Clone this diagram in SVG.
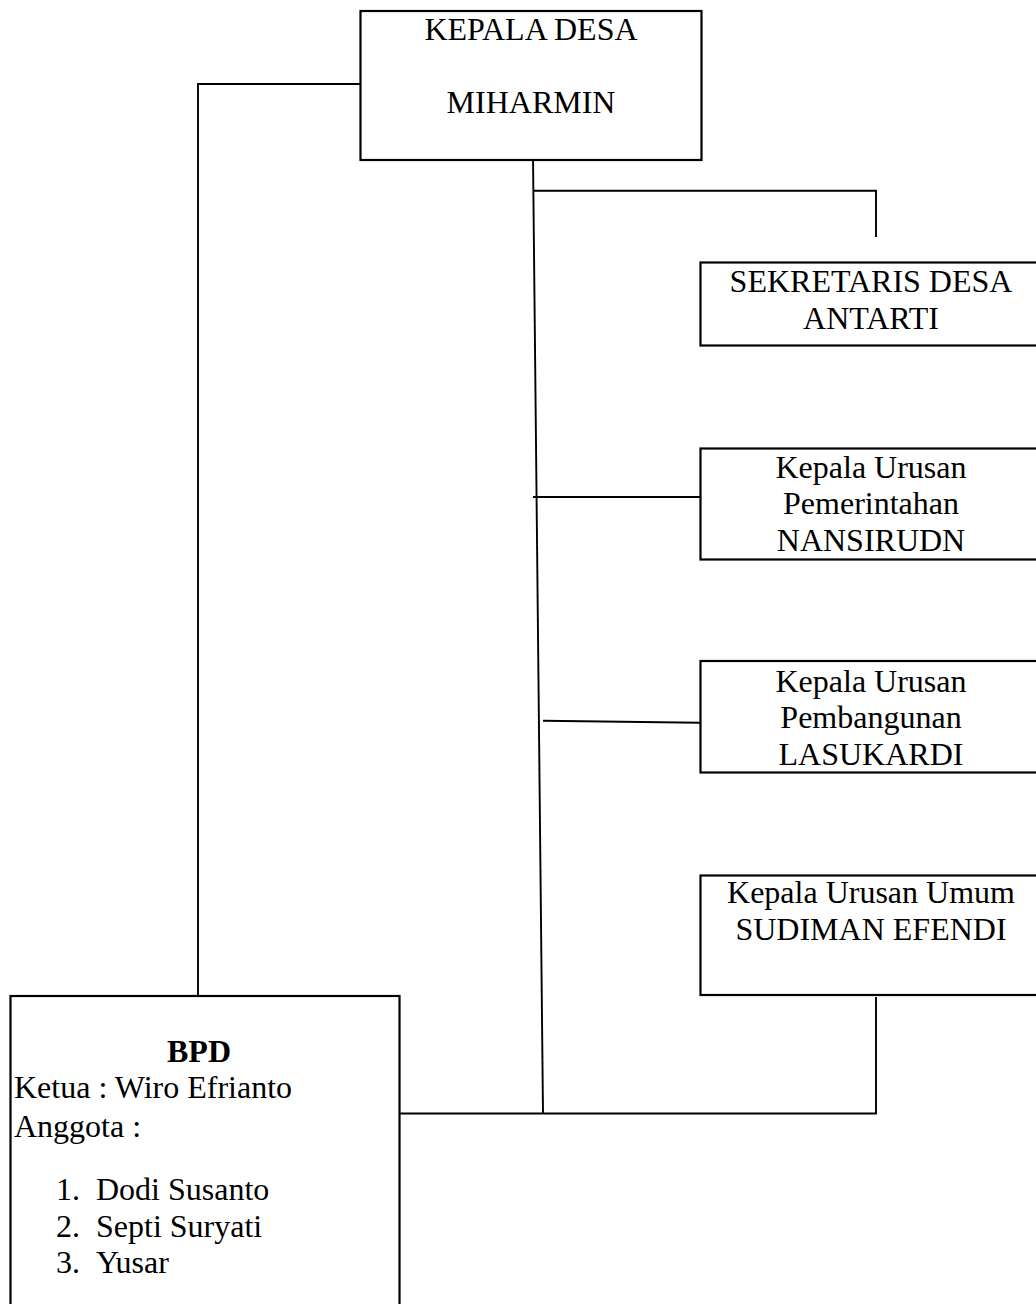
<svg xmlns="http://www.w3.org/2000/svg" width="1036" height="1304" viewBox="0 0 1036 1304">
<style>
.box{fill:#fff;stroke:#000;stroke-width:2.2}
.ln{fill:none;stroke:#000;stroke-width:1.9}
text{font-family:"Liberation Serif","Times New Roman",serif;font-size:32px;fill:#000}
.c{text-anchor:middle}
.b{font-weight:bold}
</style>
<rect width="1036" height="1304" fill="#fff"/>
<g id="connectors">
<polyline class="ln" points="360,84 198,84 198,999"/>
<line class="ln" x1="533" y1="156" x2="543" y2="1113"/>
<polyline class="ln" points="533,190.7 876,190.7 876,237"/>
<line class="ln" x1="533" y1="497" x2="700" y2="497"/>
<line class="ln" x1="543" y1="720.7" x2="700" y2="722.7"/>
<polyline class="ln" points="399,1113.5 876,1113.5 876,997"/>
</g>
<g id="kepala-desa">
<rect class="box" x="360.5" y="11" width="341" height="149"/>
<text class="c" x="531" y="40">KEPALA DESA</text>
<text class="c" x="531" y="113">MIHARMIN</text>
</g>
<g id="sekretaris">
<rect class="box" x="700.5" y="262.5" width="341" height="83"/>
<text class="c" x="871" y="291.5">SEKRETARIS DESA</text>
<text class="c" x="871" y="329">ANTARTI</text>
</g>
<g id="kaur-pemerintahan">
<rect class="box" x="700.5" y="448.5" width="341" height="111"/>
<text class="c" x="871" y="477.5">Kepala Urusan</text>
<text class="c" x="871" y="514">Pemerintahan</text>
<text class="c" x="871" y="550.5">NANSIRUDN</text>
</g>
<g id="kaur-pembangunan">
<rect class="box" x="700.5" y="661" width="341" height="111.5"/>
<text class="c" x="871" y="691.5">Kepala Urusan</text>
<text class="c" x="871" y="728">Pembangunan</text>
<text class="c" x="871" y="764.5">LASUKARDI</text>
</g>
<g id="kaur-umum">
<rect class="box" x="700.5" y="875.5" width="341" height="119.5"/>
<text class="c" x="871" y="903">Kepala Urusan Umum</text>
<text class="c" x="871" y="940">SUDIMAN EFENDI</text>
</g>
<g id="bpd">
<rect class="box" x="10.5" y="996" width="389" height="320"/>
<text class="c b" x="199" y="1061.5">BPD</text>
<text x="14" y="1098">Ketua : Wiro Efrianto</text>
<text x="14" y="1137">Anggota :</text>
<text x="56" y="1200">1.</text><text x="96" y="1200">Dodi Susanto</text>
<text x="56" y="1236.5">2.</text><text x="96" y="1236.5">Septi Suryati</text>
<text x="56" y="1273">3.</text><text x="96" y="1273">Yusar</text>
</g>
</svg>
